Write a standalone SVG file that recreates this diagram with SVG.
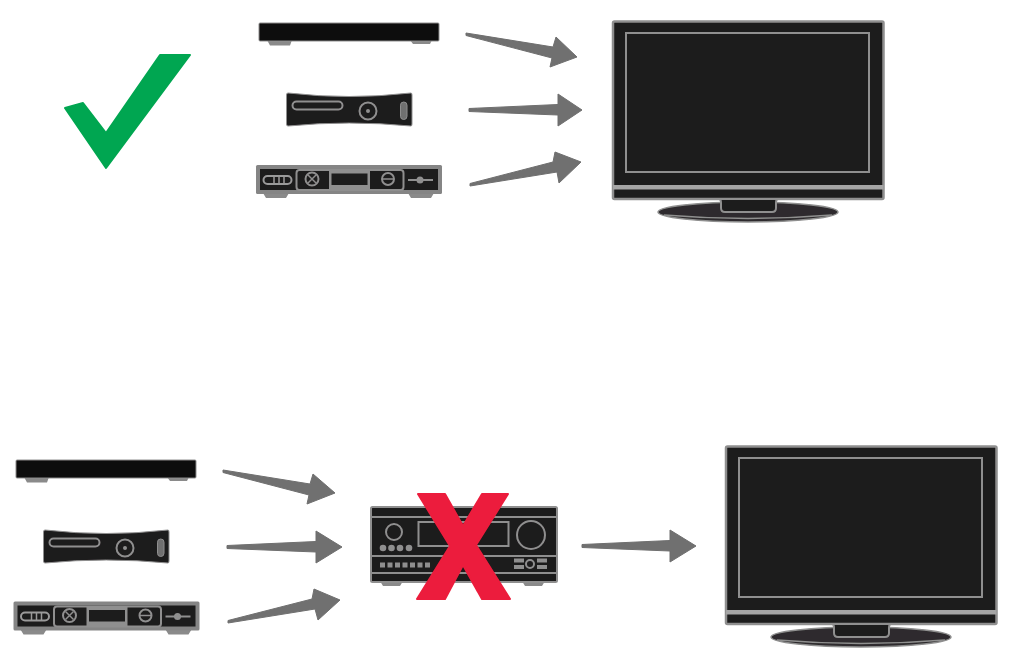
<svg xmlns="http://www.w3.org/2000/svg" width="1009" height="659" viewBox="0 0 1009 659">
<style>
.dk{fill:#1c1a1b}
.ln{fill:none;stroke:#8f8f8f;stroke-width:2}
.ft{fill:#8a8a8a}
.gy{fill:#8f8f8f}
.arrow{fill:#6f6f6f;stroke:#6f6f6f;stroke-width:1;stroke-linejoin:round}
</style>
<defs>
<filter id="soft" x="-2%" y="-2%" width="104%" height="104%"><feGaussianBlur stdDeviation="0.75"/></filter>
<g id="box">
<path class="ft" d="M267 40h25l-2 5.500h-20zM410 40h22l-2 4h-17z"/>
<rect x="259" y="23" width="180" height="18" rx="1" fill="#0a0809" stroke="#8f8f8f" stroke-width="1"/>
</g>
<g id="xbox">
<path class="dk" stroke="#8f8f8f" stroke-width="1" d="M286.500 95Q286.500 93 288 93Q349 100 411 93Q412 93 412 95V124Q412 126 411 126Q349 120 288 126Q286.500 126 286.500 124Z"/>
<rect class="ln" x="292.500" y="101.500" width="50" height="8" rx="4"/>
<circle class="ln" cx="368" cy="111" r="8.500" stroke-width="2.500"/>
<circle class="gy" cx="368" cy="111" r="2"/>
<rect x="400.500" y="102" width="6.500" height="17.500" rx="3.200" fill="#6f6f6f" stroke="#8f8f8f"/>
</g>
<g id="player">
<path class="ft" d="M263 193h26l-3 5h-20zM408 193h26l-3 5h-20z"/>
<rect x="256" y="165" width="186" height="29" rx="1.500" fill="#858585"/>
<rect x="260" y="169" width="178" height="21" class="dk"/>
<rect x="296.500" y="170" width="107" height="20" rx="3" class="dk" stroke="#8f8f8f" stroke-width="2"/>
<rect x="329" y="170" width="41" height="20" class="gy"/>
<rect x="331.500" y="173.500" width="36" height="11.500" class="dk"/>
<rect x="263.500" y="176" width="28" height="8" rx="4" fill="none" stroke="#9a9a9a" stroke-width="2"/>
<path d="M274 176v8M279 176v8M284 176v8" stroke="#9a9a9a" stroke-width="1.500"/>
<circle class="ln" cx="312" cy="179" r="6.500"/>
<path d="M308 175l8 8M316 175l-8 8" stroke="#8f8f8f" stroke-width="1.500"/>
<circle class="ln" cx="388" cy="179" r="6"/>
<path d="M382 179h12" stroke="#8f8f8f" stroke-width="1.500"/>
<path d="M408 180h25" stroke="#8f8f8f" stroke-width="2"/>
<circle class="gy" cx="420" cy="180" r="3.500"/>
</g>
<g id="tv">
<ellipse cx="748" cy="212" rx="90" ry="10" fill="#2e2c2d" stroke="#8f8f8f" stroke-width="1.500"/>
<path d="M664 215Q748 222 832 215" fill="none" stroke="#8f8f8f" stroke-width="1.500"/>
<rect x="613" y="21.500" width="270.500" height="177.500" rx="1.500" class="dk" stroke="#8f8f8f" stroke-width="2.500"/>
<rect x="626" y="33" width="243" height="139" class="ln"/>
<rect x="613" y="185" width="270.500" height="4.500" fill="#a5a5a5"/>
<path d="M719 199Q721 199 721 203V208Q721 212 725 212H772Q776 212 776 208V203Q776 199 778 199Z" class="dk" stroke="#8f8f8f" stroke-width="2"/>
</g>
</defs>
<rect width="1009" height="659" fill="#ffffff"/>
<g filter="url(#soft)">
<g id="check"><path d="M65 108L83 103L106 133L160 55H190L106 168Z" fill="#00a651" stroke="#00a651" stroke-width="2" stroke-linejoin="round"/></g>
<g id="top-box"><use href="#box"/></g>
<g id="top-console"><use href="#xbox"/></g>
<g id="top-player"><use href="#player"/></g>
<g id="top-tv"><use href="#tv"/></g>
<g id="bottom-box"><use href="#box" transform="translate(-243 437)"/></g>
<g id="bottom-console"><use href="#xbox" transform="translate(-243 437)"/></g>
<g id="bottom-player"><use href="#player" transform="translate(-242.500 436.500)"/></g>
<g id="bottom-tv"><use href="#tv" transform="translate(113 425)"/></g>
<g id="receiver">
<path class="ft" d="M380 581h23l-3 5h-17zM522 581h23l-3 5h-17z"/>
<rect x="371" y="507" width="186" height="75" rx="1.500" class="dk" stroke="#8f8f8f" stroke-width="2"/>
<path d="M371 517H557M371 556H557M371 573H557" stroke="#8f8f8f" stroke-width="2"/>
<circle class="ln" cx="394" cy="532" r="8"/>
<g class="gy"><circle cx="383" cy="548" r="3.300"/><circle cx="391.500" cy="548" r="3.300"/><circle cx="400" cy="548" r="3.300"/><circle cx="409" cy="548" r="3.300"/></g>
<rect class="ln" x="418.500" y="522" width="90" height="24"/>
<circle class="ln" cx="531" cy="535" r="14"/>
<path d="M380 565H430" stroke="#8f8f8f" stroke-width="5" stroke-dasharray="5 2.500"/>
<circle class="ln" cx="530" cy="564" r="4"/>
<path d="M514 560.500h10M514 567h10M537 560.500h10M537 567h10" stroke="#8f8f8f" stroke-width="4"/>
<path d="M418 494H445L463 526L482 494H508L476 545L510 599H482L463 565L445 599H417L450 546Z" fill="#ec1c3c" stroke="#ec1c3c" stroke-width="2" stroke-linejoin="round"/>
</g>
<g id="connectors">
<path class="arrow" d="M466 33L466 35.500L552 58L550 67L577 57L556 37L553 47Z"/>
<path class="arrow" d="M469 108.500V111.500L558 115V126L582 110L558 94V104.500Z"/>
<path class="arrow" d="M470 183.500L470 186L557 172L559 183L581 162L555 152L553 162Z"/>
<path class="arrow" d="M223 470L223 472.500L309 495L307 504L335 493L313 474L310 484Z"/>
<path class="arrow" d="M227 545.500V548.500L316 552V563L342 547L316 531V541.500Z"/>
<path class="arrow" d="M228 620.500L228 623L315 609L318 620L340 600L314 589L312 599Z"/>
<path class="arrow" d="M582 544.500V547.500L670 551V562L696 546L670 530V540.500Z"/>
</g>
</g>
</svg>
